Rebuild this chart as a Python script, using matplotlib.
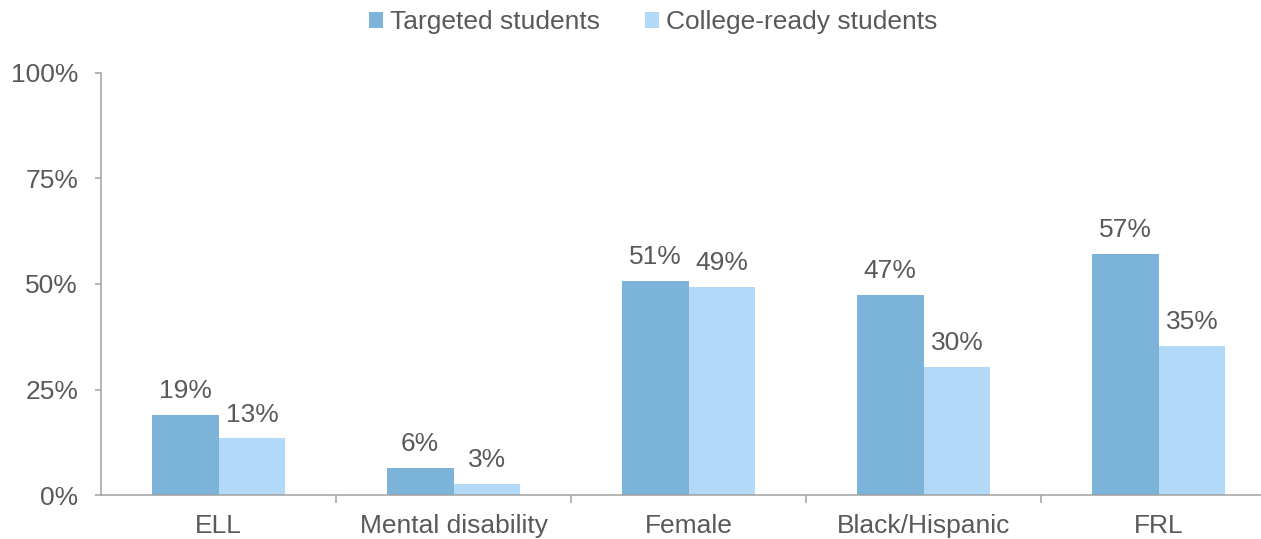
"""Grouped bar chart: share of targeted vs college-ready students by subgroup."""

import matplotlib
matplotlib.use("Agg")
import matplotlib.pyplot as plt
import matplotlib.ticker as ticker
import numpy as np

plt.rcParams["font.family"] = ["Liberation Sans", "DejaVu Sans"]

# Data (percent of students)
categories = ["ELL", "Mental disability", "Female", "Black/Hispanic", "FRL"]
targeted = [19.0, 6.4, 50.7, 47.4, 57.1]
college_ready = [13.4, 2.6, 49.3, 30.3, 35.3]
series_names = ["Targeted students", "College-ready students"]
y_ticks = [0, 25, 50, 75, 100]

COL_TARGET = "#7bb3d9"
COL_READY = "#b2d9f7"
TEXT = "#595959"
AXIS = "#a0a0a0"
FS = 19

fig = plt.figure(figsize=(12.61, 5.39), dpi=100)
ax = fig.add_axes([0.0801, 0.0816, 0.9318, 0.783])

x = np.arange(len(categories))
w = 0.285
bars_t = ax.bar(x - w / 2, targeted, w, color=COL_TARGET, label=series_names[0])
bars_r = ax.bar(x + w / 2, college_ready, w, color=COL_READY, label=series_names[1])

for bars, vals in [(bars_t, targeted), (bars_r, college_ready)]:
    for b, v in zip(bars, vals):
        ax.annotate(f"{v:.0f}%", (b.get_x() + b.get_width() / 2, v),
                    xytext=(0, 12), textcoords="offset points",
                    ha="center", va="baseline", fontsize=FS, color=TEXT)

ax.set_xlim(-0.5, len(categories) - 0.5)
ax.set_ylim(0, 100)
ax.set_yticks(y_ticks)
ax.yaxis.set_major_formatter(ticker.FuncFormatter(lambda v, _: f"{v:.0f}%"))

# category labels at centres, tick marks on the boundaries
ax.set_xticks(x)
ax.set_xticklabels(categories)
ax.set_xticks(np.arange(len(categories)) + 0.5, minor=True)
ax.tick_params(axis="x", which="major", length=0, pad=14, labelsize=FS, labelcolor=TEXT)
ax.tick_params(axis="x", which="minor", length=6, width=1.1, color=AXIS, direction="out")
ax.tick_params(axis="y", length=4.5, width=1.1, color=AXIS, pad=12,
               labelsize=FS, labelcolor=TEXT)

for side in ["top", "right"]:
    ax.spines[side].set_visible(False)
for side in ["left", "bottom"]:
    ax.spines[side].set_color(AXIS)
    ax.spines[side].set_linewidth(1.1)

fig.legend(loc="center", bbox_to_anchor=(653 / 1261, 1 - 22 / 539), ncol=2,
           frameon=False, fontsize=FS, handlelength=0.55, handleheight=0.55,
           handletextpad=0.25, columnspacing=1.7, labelcolor=TEXT)

fig.savefig("out.png", dpi=100)
